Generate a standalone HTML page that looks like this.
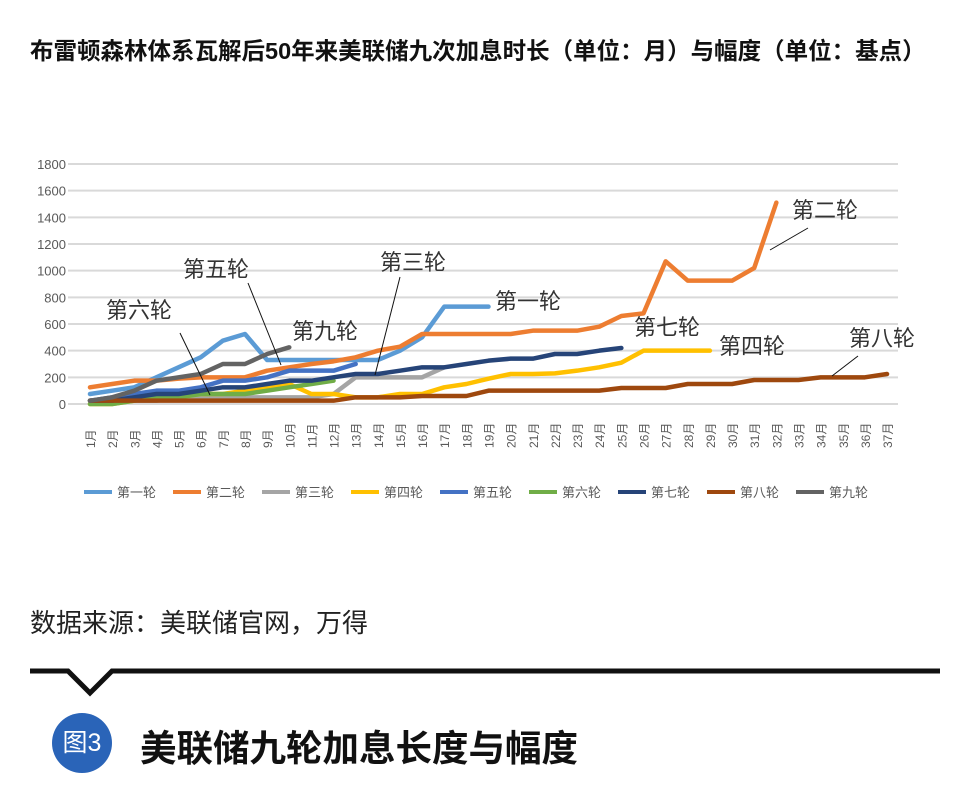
<!DOCTYPE html>
<html><head><meta charset="utf-8"><style>
body{margin:0;width:974px;height:801px;background:#fff;overflow:hidden;font-family:"Liberation Sans","Noto Sans CJK SC",sans-serif;}
.t{position:absolute;white-space:nowrap;}
</style></head><body>
<div class="t" style="left:30px;top:32px;font-size:23.5px;font-weight:bold;color:#111;">布雷顿森林体系瓦解后50年来美联储九次加息时长（单位：月）与幅度（单位：基点）</div>
<svg id="chart" width="974" height="600" style="position:absolute;left:0;top:0" font-family="Liberation Sans, Noto Sans CJK SC, sans-serif"></svg>
<div class="t" style="left:30px;top:603px;font-size:26px;color:#222;">数据来源：美联储官网，万得</div>
<svg width="974" height="60" style="position:absolute;left:0;top:660px">
<polyline points="30,11 68,11 90,33 112,11 940,11" fill="none" stroke="#111" stroke-width="5"/>
</svg>
<div style="position:absolute;left:52px;top:713px;width:60px;height:60px;border-radius:50%;background:#2a64b8;color:#fff;font-size:25px;line-height:60px;text-align:center;">图3</div>
<div class="t" style="left:140px;top:719px;font-size:36.5px;font-weight:bold;color:#111;">美联储九轮加息长度与幅度</div>
<script>
const months=[];for(let i=1;i<=37;i++)months.push(i+'月');
const yTicks=[0,200,400,600,800,1000,1200,1400,1600,1800];
const seriesNames=['第一轮','第二轮','第三轮','第四轮','第五轮','第六轮','第七轮','第八轮','第九轮'];
const colors=['#5B9BD5','#ED7D31','#A5A5A5','#FFC000','#4472C4','#70AD47','#264478','#9E480E','#636363'];
const s1=[75,100,125,200,275,350,475,525,330,330,330,330,330,330,400,500,730,730,730];
const s2=[125,150,175,175,190,200,200,200,250,275,300,320,350,400,430,525,525,525,525,525,550,550,550,580,660,680,1070,925,925,925,1020,1510];
const s3=[25,25,25,25,50,50,50,50,50,50,50,75,200,200,200,200,275];
const s4=[0,0,25,50,50,75,75,100,125,150,75,75,50,50,75,75,125,150,190,225,225,230,250,275,310,400,400,400,400];
const s5=[25,50,75,100,100,125,175,175,200,250,250,250,300];
const s6=[0,0,25,50,50,75,75,75,100,125,150,175];
const s7=[25,25,50,75,75,100,125,125,150,175,175,200,225,225,250,275,275,300,325,340,340,375,375,400,420];
const s8=[25,25,25,25,25,25,25,25,25,25,25,25,50,50,50,60,60,60,100,100,100,100,100,100,120,120,120,150,150,150,180,180,180,200,200,200,225];
const s9=[25,50,100,175,200,225,300,300,375,425];
const allSeries=[s1,s2,s3,s4,s5,s6,s7,s8,s9];
const svg=document.getElementById('chart');const NS='http://www.w3.org/2000/svg';
const X=i=>90+i*22.14, Y=v=>404-v*240/1800;
function mk(t,a,p){const e=document.createElementNS(NS,t);for(const k in a)e.setAttribute(k,a[k]);(p||svg).appendChild(e);return e;}
yTicks.forEach(v=>{
 const l=mk('line',{x1:68,x2:898,y1:Y(v),y2:Y(v),stroke:'#d9d9d9','stroke-width':2});
 
 
 const t=mk('text',{x:66,y:Y(v)+5,'text-anchor':'end','font-size':13,fill:'#595959'});t.textContent=v;
 
 
});
months.forEach((m,i)=>{
 const t=mk('text',{transform:`translate(${X(i)+5},${448}) rotate(-90)`,'font-size':12,fill:'#595959'});t.textContent=m;
 
 
});
allSeries.forEach((s,k)=>{
 const p=mk('polyline',{points:s.map((v,i)=>X(i)+','+Y(v)).join(' '),fill:'none',stroke:colors[k],'stroke-width':4.5,'stroke-linejoin':'round','stroke-linecap':'round'});
 
 
});
seriesNames.forEach((n,k)=>{
 const x=84+k*89;
 const l=mk('line',{x1:x,x2:x+28,y1:492,y2:492,stroke:colors[k],'stroke-width':4});
 
 
 const t=mk('text',{x:x+33,y:497,'font-size':13,fill:'#595959'});t.textContent=n;
 
 
});
const ann=[['第五轮',183,277,[248,283,281,365]],['第六轮',106,318,[180,333,210,395]],['第九轮',292,339,null],['第三轮',380,270,[400,277,375,375]],['第一轮',495,309,null],['第七轮',634,335,null],['第四轮',719,354,null],['第二轮',792,218,[808,228,770,250]],['第八轮',849,346,[858,356,832,376]]];
ann.forEach(a=>{
 const t=mk('text',{x:a[1],y:a[2],'font-size':22,fill:'#333'});t.textContent=a[0];
 
 
 if(a[3]){const l=mk('line',{x1:a[3][0],y1:a[3][1],x2:a[3][2],y2:a[3][3],stroke:'#111','stroke-width':1});
 
 }
});
</script>
</body></html>
